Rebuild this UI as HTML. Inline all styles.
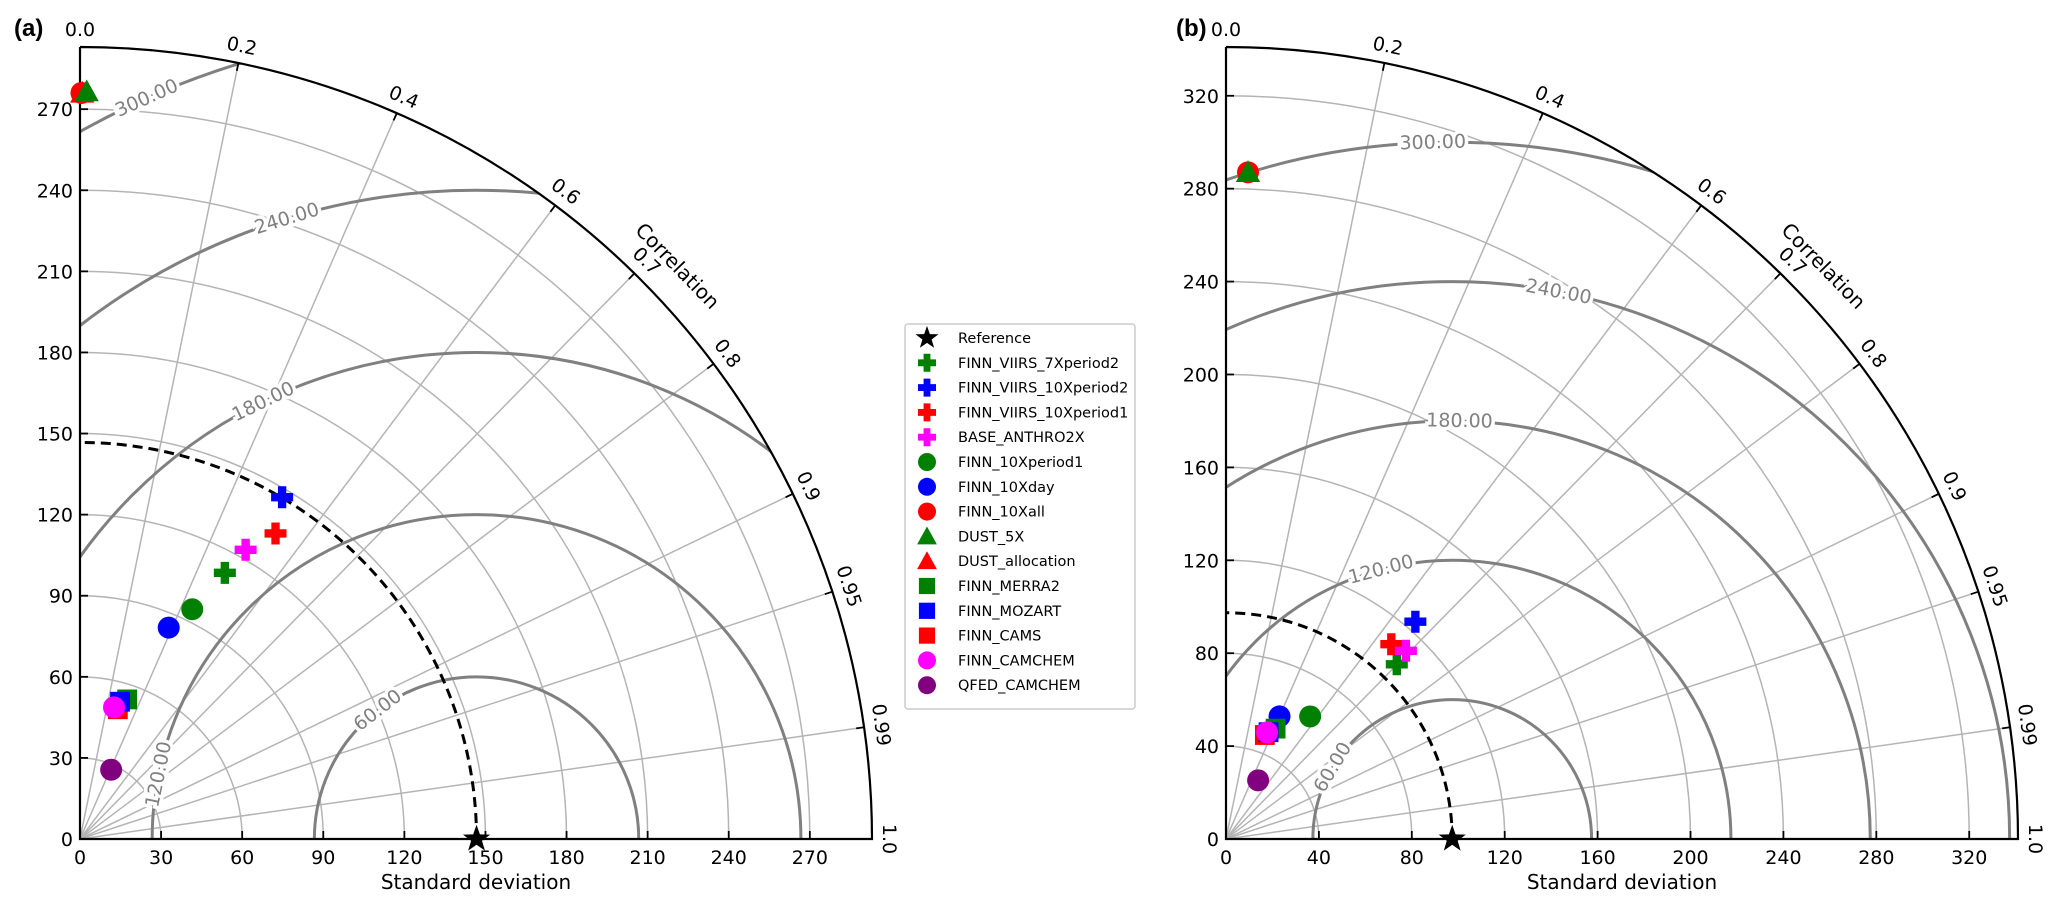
<!DOCTYPE html>
<html><head><meta charset="utf-8"><style>
html,body{margin:0;padding:0;background:#fff;width:2067px;height:915px;overflow:hidden;}
svg{display:block;font-family:"DejaVu Sans","Liberation Sans",sans-serif;}
</style></head><body>
<svg id="fig" width="2067" height="915" viewBox="0 0 2067 915" xmlns="http://www.w3.org/2000/svg">
<text x="14" y="36" font-family="Liberation Sans, sans-serif" font-weight="bold" font-size="24">(a)</text>
<text x="1176" y="36" font-family="Liberation Sans, sans-serif" font-weight="bold" font-size="24">(b)</text>
<g id="legend"></g>
</svg>
<script>
const seriesNames = ["FINN_VIIRS_7Xperiod2","FINN_VIIRS_10Xperiod2","FINN_VIIRS_10Xperiod1","BASE_ANTHRO2X","FINN_10Xperiod1","FINN_10Xday","FINN_10Xall","DUST_5X","DUST_allocation","FINN_MERRA2","FINN_MOZART","FINN_CAMS","FINN_CAMCHEM","QFED_CAMCHEM"];
const seriesColors = ["#008000","#0000ff","#ff0000","#ff00ff","#008000","#0000ff","#ff0000","#008000","#ff0000","#008000","#0000ff","#ff0000","#ff00ff","#800080"];
const seriesMarkers = ["plus","plus","plus","plus","circle","circle","circle","triangle","triangle","square","square","square","circle","circle"];
const panelA_std = [112.1,146.9,134.2,123.3,94.6,84.8,276,276.5,276,54.5,52.9,50,50.3,28.1];
const panelA_corr = [0.478,0.509,0.539,0.497,0.439,0.387,0.002,0.009,0.003,0.32,0.28,0.28,0.25,0.41];
const panelB_std = [105.2,124.1,110,112.1,64,57.6,287.2,287.2,287.2,52.1,49.5,47.8,49.2,28.8];
const panelB_corr = [0.699,0.657,0.647,0.691,0.566,0.40,0.033,0.033,0.033,0.41,0.37,0.35,0.36,0.48];
const panelA_ref = 146.7;
const panelB_ref = 97.4;
const panelA_max = 293;
const panelB_max = 341;
const panelA_ticks = [0,30,60,90,120,150,180,210,240,270];
const panelB_ticks = [0,40,80,120,160,200,240,280,320];
const corrTicks = [0.2,0.4,0.6,0.7,0.8,0.9,0.95,0.99];
const corrTickLabels = ["0.2","0.4","0.6","0.7","0.8","0.9","0.95","0.99"];
const rmsLevels = [60,120,180,240,300];
const rmsLabels = ["60.00","120.00","180.00","240.00","300.00"];
const panelA_rmsLabelAngles = [127.5,168.5,116,107,114];
const panelB_rmsLabelAngles = [149,104.8,89,79,91.6];
const drawOrder = [0,1,2,3,4,5,6,8,11,7,9,10,12,13];

const NS="http://www.w3.org/2000/svg";
const svg=document.getElementById('fig');
function mk(tag,attrs,parent){const e=document.createElementNS(NS,tag);for(const k in attrs)e.setAttribute(k,attrs[k]);(parent||svg).appendChild(e);return e;}

function markerShape(g,type,x,y,color,sz){
  let e;
  if(type==="plus"){const a=sz/2,w=sz*0.19;
    e=mk('path',{d:`M${x-w},${y-a}H${x+w}V${y-w}H${x+a}V${y+w}H${x+w}V${y+a}H${x-w}V${y+w}H${x-a}V${y-w}H${x-w}Z`,fill:color},g);}
  else if(type==="circle"){e=mk('circle',{cx:x,cy:y,r:sz*0.5,fill:color},g);}
  else if(type==="square"){e=mk('rect',{x:x-sz*0.45,y:y-sz*0.45,width:sz*0.9,height:sz*0.9,fill:color},g);}
  else if(type==="triangle"){const a=sz*0.55;e=mk('path',{d:`M${x},${y-a}L${x+a},${y+a*0.8}L${x-a},${y+a*0.8}Z`,fill:color},g);}
  else if(type==="star"){let d="";for(let i=0;i<10;i++){const r=i%2?sz*0.22:sz*0.55;const t=-Math.PI/2+i*Math.PI/5;d+=(i?"L":"M")+(x+r*Math.cos(t)).toFixed(2)+","+(y+r*Math.sin(t)).toFixed(2);}e=mk('path',{d:d+"Z",fill:"#000"},g);}
  return e;
}

function drawPanel(id,ox,oy,R,maxStd,ticks,ref,stds,corrs,rmsAngles){
  const s=R/maxStd;
  const P=(std,c)=>{const th=Math.acos(c);return [ox+s*std*Math.cos(th),oy-s*std*Math.sin(th)];};
  const g=mk('g',{});
  
  
  const defs=mk('defs',{},g);
  const cp=mk('clipPath',{id:id+'clip'},defs);
  mk('path',{d:`M${ox},${oy}L${ox+R},${oy}A${R},${R} 0 0 0 ${ox},${oy-R}Z`},cp);
  const clipG=mk('g',{'clip-path':`url(#${id}clip)`},g);
  ticks.forEach(t=>{if(t<=0)return;const r=t*s;
    const a=mk('path',{d:`M${ox+r},${oy}A${r},${r} 0 0 0 ${ox},${oy-r}`,fill:'none',stroke:'#b4b4b4','stroke-width':1.5},clipG);
    
    });
  corrTicks.forEach(c=>{const [x,y]=P(maxStd,c);
    const l=mk('line',{x1:ox,y1:oy,x2:x,y2:y,stroke:'#b4b4b4','stroke-width':1.5},clipG);
    
    });
  rmsLevels.forEach((lv,i)=>{const r=lv*s;const cx=ox+ref*s;
    const c=mk('circle',{cx:cx,cy:oy,r:r,fill:'none',stroke:'#808080','stroke-width':3},clipG);
    
    
    const al=rmsAngles[i]*Math.PI/180;const lx=cx+r*Math.cos(al),ly=oy-r*Math.sin(al);
    const t=mk('text',{x:lx,y:ly,'font-size':19,fill:'#808080','text-anchor':'middle','dominant-baseline':'central',transform:`rotate(${90-rmsAngles[i]} ${lx} ${ly})`,stroke:'#fff','stroke-width':7,'paint-order':'stroke'},g);
    t.textContent=rmsLabels[i];
    
    });
  const rr=ref*s;
  const ra=mk('path',{d:`M${ox+rr},${oy}A${rr},${rr} 0 0 0 ${ox},${oy-rr}`,fill:'none',stroke:'#000','stroke-width':3,'stroke-dasharray':'10,6'},g);
  
  
  const ax=mk('path',{d:`M${ox},${oy-R}L${ox},${oy}L${ox+R},${oy}A${R},${R} 0 0 0 ${ox},${oy-R}`,fill:'none',stroke:'#000','stroke-width':2.2},g);
  
  
  ticks.forEach(t=>{const p=t*s;
    mk('line',{x1:ox+p,y1:oy,x2:ox+p,y2:oy-8,stroke:'#000','stroke-width':1.8},g);
    mk('line',{x1:ox,y1:oy-p,x2:ox+8,y2:oy-p,stroke:'#000','stroke-width':1.8},g);
    const xl=mk('text',{x:ox+p,y:oy+25,'font-size':19,'text-anchor':'middle'},g);xl.textContent=t;
    
    
    const yl=mk('text',{x:ox-7,y:oy-p+7,'font-size':19,'text-anchor':'end'},g);yl.textContent=t;
    
    });
  const allC=[0].concat(corrTicks).concat([1]);const allL=["0.0"].concat(corrTickLabels).concat(["1.0"]);
  allC.forEach((c,i)=>{const th=Math.acos(c);const [x1,y1]=P(maxStd,c);
    mk('line',{x1:x1,y1:y1,x2:ox+(R-8)*Math.cos(th),y2:oy-(R-8)*Math.sin(th),stroke:'#000','stroke-width':1.8},g);
    const lr=R+17;const x=ox+lr*Math.cos(th),y=oy-lr*Math.sin(th);const rot=90-th*180/Math.PI;
    const tl=mk('text',{x:x,y:y,'font-size':19,'text-anchor':'middle','dominant-baseline':'central',transform:`rotate(${rot} ${x} ${y})`},g);
    tl.textContent=allL[i];
    
    });
  const cr=R+36,ca=43.8*Math.PI/180;const cx2=ox+cr*Math.cos(ca),cy2=oy-cr*Math.sin(ca);
  const ct=mk('text',{x:cx2,y:cy2,'font-size':20,'text-anchor':'middle','dominant-baseline':'central',transform:`rotate(46 ${cx2} ${cy2})`},g);
  ct.textContent="Correlation";
  
  
  const xt=mk('text',{x:ox+R/2,y:oy+50,'font-size':20,'text-anchor':'middle'},g);
  xt.textContent="Standard deviation";
  
  
  drawOrder.forEach(i=>{const [x,y]=P(stds[i],corrs[i]);
    const m=markerShape(g,seriesMarkers[i],x,y,seriesColors[i],22);
    
    });
  const st=markerShape(g,'star',ox+ref*s,oy,'#000',26);
  
  
}
drawPanel('panel-a',80,839,792,panelA_max,panelA_ticks,panelA_ref,panelA_std,panelA_corr,panelA_rmsLabelAngles);
drawPanel('panel-b',1226,839,792,panelB_max,panelB_ticks,panelB_ref,panelB_std,panelB_corr,panelB_rmsLabelAngles);

const lg=document.getElementById('legend');
const box=mk('rect',{x:905,y:324,width:230,height:385,fill:'#fff',stroke:'#cccccc','stroke-width':1.5,rx:3},lg);


const legNames=["Reference"].concat(seriesNames);
legNames.forEach((n,i)=>{const y=338+i*24.8;
  const m=i===0?markerShape(lg,'star',927,y,'#000',22):markerShape(lg,seriesMarkers[i-1],927,y,seriesColors[i-1],18);
  
  
  const t=mk('text',{x:958,y:y+5,'font-size':14.5},lg);t.textContent=n;
  
  });
</script>
</body></html>
